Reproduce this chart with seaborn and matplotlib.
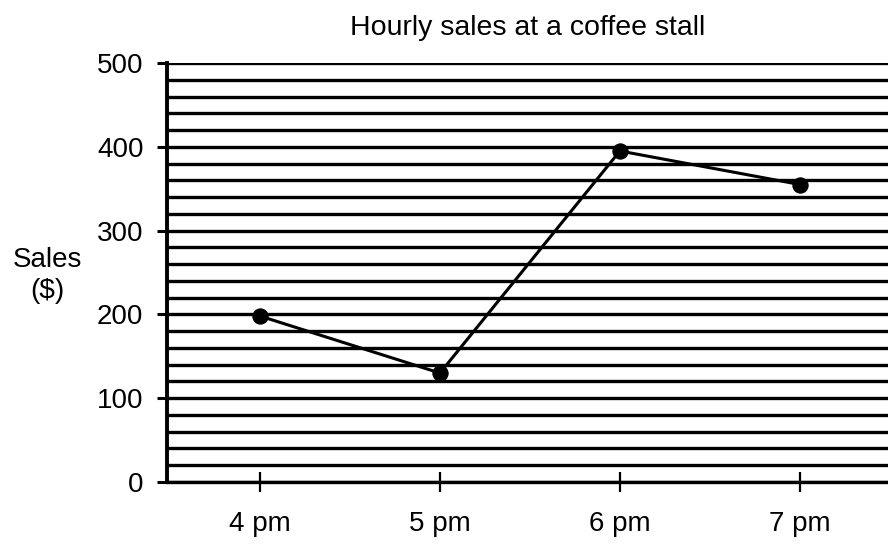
import matplotlib
matplotlib.use("Agg")
import matplotlib.pyplot as plt
import seaborn as sns
import pandas as pd
import numpy as np

hours = ["4 pm", "5 pm", "6 pm", "7 pm"]
sales = [198, 130, 395, 355]
y_ticks = [0, 100, 200, 300, 400, 500]

sns.set_style("white")
plt.rcParams['font.family'] = ['Liberation Sans', 'DejaVu Sans']
plt.rcParams['text.color'] = 'black'
plt.rcParams['axes.labelcolor'] = 'black'

df = pd.DataFrame({"pos": np.arange(len(hours)), "sales": sales})

fig = plt.figure(figsize=(8.88, 5.48), dpi=100)
ax = fig.add_axes([167/888, 1 - 482/548, 1 - 167/888, (482 - 63)/548])

for g in range(0, 501, 20):
    ax.axhline(g, color="black", lw=2.4, zorder=1)

sns.lineplot(data=df, x="pos", y="sales", sort=False, color="black", lw=2.2,
             marker="o", markersize=11, markeredgecolor="black", ax=ax, zorder=3)

ax.set_xlim(-0.517, 3.49)
ax.set_ylim(0, 500)
ax.set_xticks(range(len(hours)))
ax.set_xticklabels(hours)
ax.set_yticks(y_ticks)
ax.set_yticklabels([str(v) for v in y_ticks])
ax.tick_params(axis="x", bottom=True, direction="inout", length=14, width=1.6,
               labelsize=20, pad=14, colors="black")
ax.tick_params(axis="y", left=True, direction="out", length=7, width=2.2,
               labelsize=20, pad=10, colors="black")
ax.set_xlabel("")
ax.set_ylabel("Sales\n($)", rotation=0, fontsize=20, va="center", ha="center",
              linespacing=1.25, color="black")
ax.yaxis.set_label_coords(-0.166, 0.494)

for s in ["top", "right"]:
    ax.spines[s].set_visible(False)
ax.spines["left"].set_linewidth(2.8)
ax.spines["left"].set_color("black")
ax.spines["bottom"].set_linewidth(2.4)
ax.spines["bottom"].set_color("black")

fig.text((167 + 888) / 2 / 888, 1 - 28/548, "Hourly sales at a coffee stall",
         ha="center", va="center", fontsize=20.5, color="black")

fig.savefig("out.png", dpi=100)
